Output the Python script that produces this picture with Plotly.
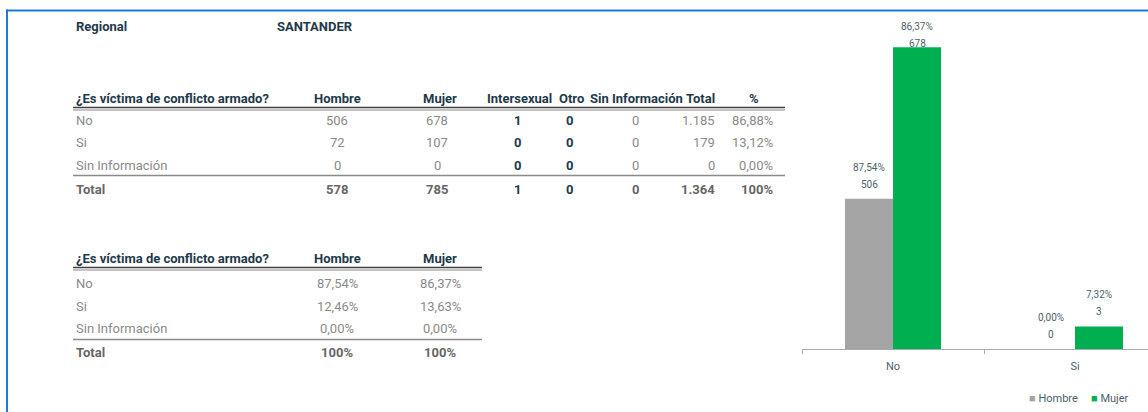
import plotly.graph_objects as go

W, H = 1148, 412

# ---------------- data ----------------
regional_label = "Regional"
regional_value = "SANTANDER"

t1_title = "¿Es víctima de conflicto armado?"
t1_columns = ["Hombre", "Mujer", "Intersexual", "Otro", "Sin Información", "Total", "%"]
t1_rows = ["No", "Si", "Sin Información"]
t1_hombre = ["506", "72", "0"]
t1_mujer = ["678", "107", "0"]
t1_intersexual = ["1", "0", "0"]
t1_otro = ["0", "0", "0"]
t1_sininfo = ["0", "0", "0"]
t1_total = ["1.185", "179", "0"]
t1_pct = ["86,88%", "13,12%", "0,00%"]
t1_total_row = ["578", "785", "1", "0", "0", "1.364", "100%"]
total_label = "Total"

t2_columns = ["Hombre", "Mujer"]
t2_hombre = ["87,54%", "12,46%", "0,00%"]
t2_mujer = ["86,37%", "13,63%", "0,00%"]
t2_total_row = ["100%", "100%"]

chart_categories = ["No", "Si"]
chart_series = ["Hombre", "Mujer"]
chart_hombre = [338, 0]        # bar heights as drawn
chart_mujer = [678, 51]
chart_hombre_pct = ["87,54%", "0,00%"]
chart_hombre_n = ["506", "0"]
chart_mujer_pct = ["86,37%", "7,32%"]
chart_mujer_n = ["678", "3"]

# ---------------- style ----------------
FONT = "Roboto"
C_HEAD = "#1e3a4a"
C_ROW = "#8a8a8a"
C_TOT = "#666666"
C_LBL = "#4d5f6b"
GRAY = "#a5a5a5"
GREEN = "#00b050"
BLUE = "#1f78d1"


def px(x):
    return x / W


def py(y):
    return 1 - y / H


annotations = []


def txt(x, y, s, anchor="left", color=C_ROW, size=13, bold=False):
    annotations.append(dict(
        x=px(x), y=py(y), xref="paper", yref="paper", text=(f"<b>{s}</b>" if bold else s),
        showarrow=False, xanchor=anchor, yanchor="middle",
        font=dict(family=FONT, size=size, color=color)))


shapes = []


def hline(x0, x1, y, color, width):
    shapes.append(dict(type="line", xref="paper", yref="paper", x0=px(x0), x1=px(x1),
                       y0=py(y), y1=py(y), line=dict(color=color, width=width)))


# border
shapes.append(dict(type="line", xref="paper", yref="paper", x0=px(6), x1=1, y0=py(10.5), y1=py(10.5),
                   line=dict(color=BLUE, width=2)))
shapes.append(dict(type="line", xref="paper", yref="paper", x0=px(7), x1=px(7), y0=py(9.5), y1=0,
                   line=dict(color=BLUE, width=2)))

# regional
txt(74, 27, regional_label, color=C_HEAD, bold=True)
txt(275, 27, regional_value, color=C_HEAD, bold=True)

# table 1
LX = 74
t1_hdr_y, t1_row_y, t1_tot_y = 98, [120.5, 143, 165.5], 189
col1 = [  # (header x, header anchor, value x, value anchor, values, bold colour)
    (337, "center", 337, "center", t1_hombre, None),
    (440, "center", 437, "center", t1_mujer, None),
    (519, "center", 517, "center", t1_intersexual, C_HEAD),
    (571, "center", 569, "center", t1_otro, C_HEAD),
    (636, "center", 635, "center", t1_sininfo, None),
    (717, "right", 717, "right", t1_total, None),
    (754, "center", 775, "right", t1_pct, None),
]
txt(LX, t1_hdr_y, t1_title, color=C_HEAD, bold=True)
for r, lab in enumerate(t1_rows):
    txt(LX, t1_row_y[r], lab)
txt(LX, t1_tot_y, total_label, color=C_TOT, bold=True)
for i, (hx, ha, vx, va, vals, bc) in enumerate(col1):
    txt(hx, t1_hdr_y, t1_columns[i], anchor=ha, color=C_HEAD, bold=True)
    for r, v in enumerate(vals):
        if bc:
            txt(vx, t1_row_y[r], v, anchor=va, color=bc, bold=True)
        else:
            txt(vx, t1_row_y[r], v, anchor=va)
    txt(vx, t1_tot_y, t1_total_row[i], anchor=va, color=(bc or C_TOT), bold=True)
hline(73, 785, 107.5, "#404040", 1.5)
hline(73, 785, 110, "#8a8a8a", 1)
hline(73, 785, 175.5, "#8a8a8a", 1.5)

# table 2
t2_hdr_y, t2_row_y, t2_tot_y = 258, [283, 306, 328], 352
col2 = [(337, t2_hombre), (440, t2_mujer)]
txt(LX, t2_hdr_y, t1_title, color=C_HEAD, bold=True)
for r, lab in enumerate(t1_rows):
    txt(LX, t2_row_y[r], lab)
txt(LX, t2_tot_y, total_label, color=C_TOT, bold=True)
for i, (cx, vals) in enumerate(col2):
    txt(cx, t2_hdr_y, t2_columns[i], anchor="center", color=C_HEAD, bold=True)
    for r, v in enumerate(vals):
        txt(cx, t2_row_y[r], v, anchor="center")
    txt(cx, t2_tot_y, t2_total_row[i], anchor="center", color=C_TOT, bold=True)
hline(73, 482, 267.5, "#404040", 1.5)
hline(73, 482, 270, "#8a8a8a", 1)
hline(73, 482, 339.5, "#8a8a8a", 1.5)

# ---------------- chart ----------------
fig = go.Figure()
fig.add_trace(go.Bar(x=chart_categories, y=chart_hombre, name=chart_series[0],
                     marker=dict(color=GRAY, line=dict(width=0)), hoverinfo="skip"))
fig.add_trace(go.Bar(x=chart_categories, y=chart_mujer, name=chart_series[1],
                     marker=dict(color=GREEN, line=dict(width=0)), hoverinfo="skip"))

lift = {0: [14.5, 14.5], 1: [4, 15]}
for s, (vals, pcts, ns, shift) in enumerate([(chart_hombre, chart_hombre_pct, chart_hombre_n, -24),
                                            (chart_mujer, chart_mujer_pct, chart_mujer_n, 24)]):
    for i, cat in enumerate(chart_categories):
        for text, extra in ((ns[i], 0), (pcts[i], 17)):
            annotations.append(dict(x=cat, y=vals[i], xref="x", yref="y", text=text, showarrow=False,
                                    xshift=shift, yshift=lift[s][i] + extra, yanchor="middle",
                                    font=dict(family=FONT, size=10, color=C_LBL)))

# legend as text
leg_x = [1027, 1089]
leg_cols = [GRAY, GREEN]
for k, name in enumerate(chart_series):
    txt(leg_x[k], 398, f"<span style='color:{leg_cols[k]}'>■</span> {name}", color=C_LBL, size=11)

base_px = 349.3
cat_px = 182
fig.update_layout(
    width=W, height=H, margin=dict(l=0, r=0, t=0, b=0),
    paper_bgcolor="white", plot_bgcolor="white", showlegend=False,
    barmode="group", bargap=1 - 96 / cat_px, bargroupgap=0,
    font=dict(family=FONT),
    xaxis=dict(domain=[px(802), 1], type="category", range=[-0.5, -0.5 + (W - 802) / cat_px],
               showline=True, linecolor="#a3acb1", linewidth=1, ticks="outside", tickson="boundaries",
               ticklen=4, tickcolor="#a3acb1", showgrid=False, zeroline=False, ticklabelstandoff=6,
               tickfont=dict(family=FONT, size=11, color=C_LBL)),
    yaxis=dict(domain=[py(base_px), 1], range=[0, 678 * base_px / 302], visible=False,
               showgrid=False, zeroline=False),
    annotations=annotations, shapes=shapes,
)

fig.write_html("out.html", config={"displayModeBar": False},
               post_script="document.body.style.margin='0px';")
